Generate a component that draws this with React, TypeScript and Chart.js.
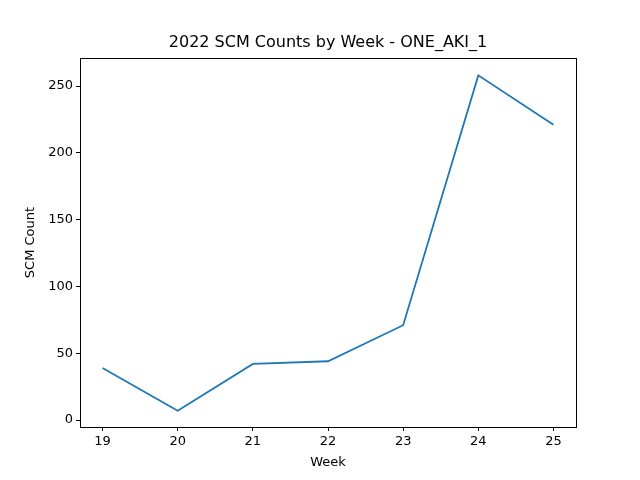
import { useEffect, useRef } from "react";
import { Chart, registerables } from "chart.js";

Chart.register(...registerables);

const weeks = [19, 20, 21, 22, 23, 24, 25];
const counts = [39, 7, 42, 44, 71, 258, 221];
const xTicks = [19, 20, 21, 22, 23, 24, 25];
const yTicks = [0, 50, 100, 150, 200, 250];
const TITLE = "2022 SCM Counts by Week - ONE_AKI_1";
const FONT = "'DejaVu Sans', sans-serif";

const framePlugin = {
  id: "frame",
  afterDraw(chart: Chart) {
    const { ctx, chartArea: a } = chart;
    ctx.save();
    ctx.strokeStyle = "#000";
    ctx.lineWidth = 1;
    ctx.strokeRect(a.left + 0.5, a.top + 0.5, a.right - a.left, a.bottom - a.top);
    ctx.fillStyle = "#000";
    ctx.font = `16px ${FONT}`;
    ctx.textAlign = "center";
    ctx.textBaseline = "middle";
    ctx.fillText(TITLE, (a.left + a.right) / 2, 43);
    ctx.restore();
  },
};

export default function App() {
  const ref = useRef<HTMLCanvasElement>(null);
  useEffect(() => {
    document.body.style.margin = "0";
    const canvas = ref.current;
    if (!canvas) return;
    const chart = new Chart(canvas, {
      type: "line",
      data: {
        datasets: [
          {
            data: weeks.map((w, i) => ({ x: w, y: counts[i] })),
            borderColor: "#1f77b4",
            borderWidth: 1.8,
            pointRadius: 0,
            tension: 0,
          },
        ],
      },
      options: {
        animation: false,
        responsive: false,
        layout: { padding: { top: 58, right: 64, left: 0, bottom: 0 } },
        plugins: { legend: { display: false }, tooltip: { enabled: false } },
        scales: {
          x: {
            type: "linear",
            min: 18.7,
            max: 25.3,
            afterBuildTicks: (s: any) => { s.ticks = xTicks.map((v) => ({ value: v })); },
            afterFit: (s: any) => { s.height = 53; },
            grid: { drawOnChartArea: false, drawTicks: true, tickLength: 4, color: "#000" },
            border: { display: true, color: "#000" },
            ticks: { color: "#000", font: { family: FONT, size: 13 }, padding: 3, maxRotation: 0 },
            title: { display: true, text: "Week", color: "#000", font: { family: FONT, size: 13 }, padding: { top: 2, bottom: 10 } },
          },
          y: {
            min: -5.2,
            max: 271,
            afterBuildTicks: (s: any) => { s.ticks = yTicks.map((v) => ({ value: v })); },
            afterFit: (s: any) => { s.width = 80; },
            grid: { drawOnChartArea: false, drawTicks: true, tickLength: 4, color: "#000" },
            border: { display: true, color: "#000" },
            ticks: { color: "#000", font: { family: FONT, size: 13 }, padding: 3 },
            title: { display: true, text: "SCM Count", color: "#000", font: { family: FONT, size: 13 }, padding: { top: 23, bottom: 0 } },
          },
        },
      },
      plugins: [framePlugin],
    });
    return () => chart.destroy();
  }, []);
  return <canvas ref={ref} width={640} height={480} style={{ display: "block" }} />;
}
